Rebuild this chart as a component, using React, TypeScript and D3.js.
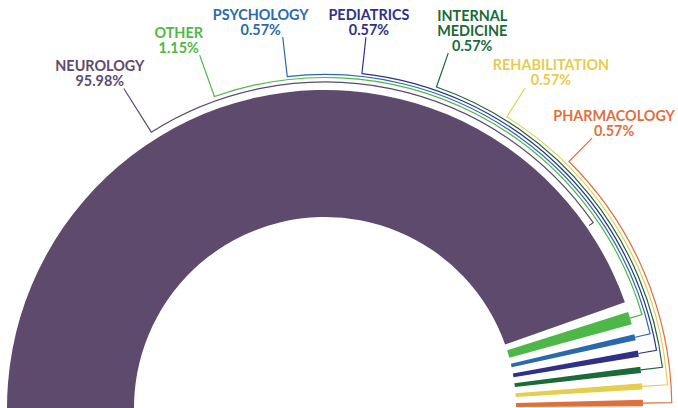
import React from "react";
import * as d3 from "d3";

const W = 678;
const H = 408;
const CX = 325;
const CY = 408;
const R_INNER = 191;
const R_OUTER = 318;

// data
const categories = ["NEUROLOGY", "OTHER", "PSYCHOLOGY", "PEDIATRICS", "INTERNAL MEDICINE", "REHABILITATION", "PHARMACOLOGY"];
const shares = [95.98, 1.15, 0.57, 0.57, 0.57, 0.57, 0.57];
const shareLabels = ["95.98%", "1.15%", "0.57%", "0.57%", "0.57%", "0.57%", "0.57%"];
const colors = ["#5e4a6d", "#4db848", "#2b69ad", "#2f3186", "#1a6a3a", "#e5cd4f", "#e06f3e"];

// callout layout (degrees, clockwise from 12 o'clock)
const calloutAngles = [-32.2, -19.55, -6.5, 6.3, 19.15, 32.0, 44.7];
const guideRadii = [326, 330.5, 333.5, 336.5, 339.8, 343.2, 346.8];
const labelRadii = [377.6, 374.5, 373.4, 373, 375.7, 377.4, 379.7];
const labelShift = [-24, -21, -22, 3, 24, 26, 22];

const rad = (deg: number) => (deg * Math.PI) / 180;
const polar = (r: number, a: number): [number, number] => [CX + r * Math.sin(a), CY - r * Math.cos(a)];

export default function App() {
  const pie = d3
    .pie<number>()
    .sort(null)
    .value((d) => d)
    .startAngle(rad(-122.35))
    .endAngle(rad(90.6))
    .padAngle(rad(1.85));
  const slices = pie(shares);

  // constant angular gap between slices, so drop d3's parallel padding
  const arc = d3
    .arc<d3.PieArcDatum<number>>()
    .innerRadius(R_INNER)
    .outerRadius(R_OUTER)
    .startAngle((d) => d.startAngle + d.padAngle / 2)
    .endAngle((d) => d.endAngle - d.padAngle / 2)
    .padAngle(0);

  return (
    <svg width={W} height={H} style={{ position: "absolute", left: 0, top: 0 }}>
      <g transform={`translate(${CX},${CY})`}>
        {slices.map((s, i) => (
          <path key={i} d={arc(s) || ""} fill={colors[i]} />
        ))}
      </g>
      <g fill="none" strokeWidth={1.2}>
        {slices.map((s, i) => {
          const a0 = rad(calloutAngles[i]);
          // neurology bracket stops short, the small slices get a tick to the mid angle
          const a1 = i === 0 ? rad(55.35) : (s.startAngle + s.endAngle) / 2;
          const tickR = i === 0 ? R_OUTER + 3 : R_OUTER;
          const top = polar(labelRadii[i], a0);
          const corner = polar(guideRadii[i], a0);
          const end = polar(tickR, a1);
          const p = d3.path();
          p.moveTo(top[0], top[1]);
          p.lineTo(corner[0], corner[1]);
          p.arc(CX, CY, guideRadii[i], a0 - Math.PI / 2, a1 - Math.PI / 2, false);
          p.lineTo(end[0], end[1]);
          return <path key={i} d={p.toString()} stroke={colors[i]} />;
        })}
      </g>
      <g fontFamily="Lato, 'Open Sans', sans-serif" fontWeight={700} fontSize={14.4} textAnchor="middle">
        {categories.map((c, i) => {
          const top = polar(labelRadii[i], rad(calloutAngles[i]));
          const lines = c === "INTERNAL MEDICINE" ? ["INTERNAL", "MEDICINE"] : [c];
          const all = [...lines, shareLabels[i]];
          const x = top[0] + labelShift[i];
          const baseY = top[1] - 2.5;
          return (
            <text key={c} x={x} fill={colors[i]}>
              {all.map((t, j) => (
                <tspan key={j} x={x} y={baseY - (all.length - 1 - j) * 15}>
                  {t}
                </tspan>
              ))}
            </text>
          );
        })}
      </g>
    </svg>
  );
}
